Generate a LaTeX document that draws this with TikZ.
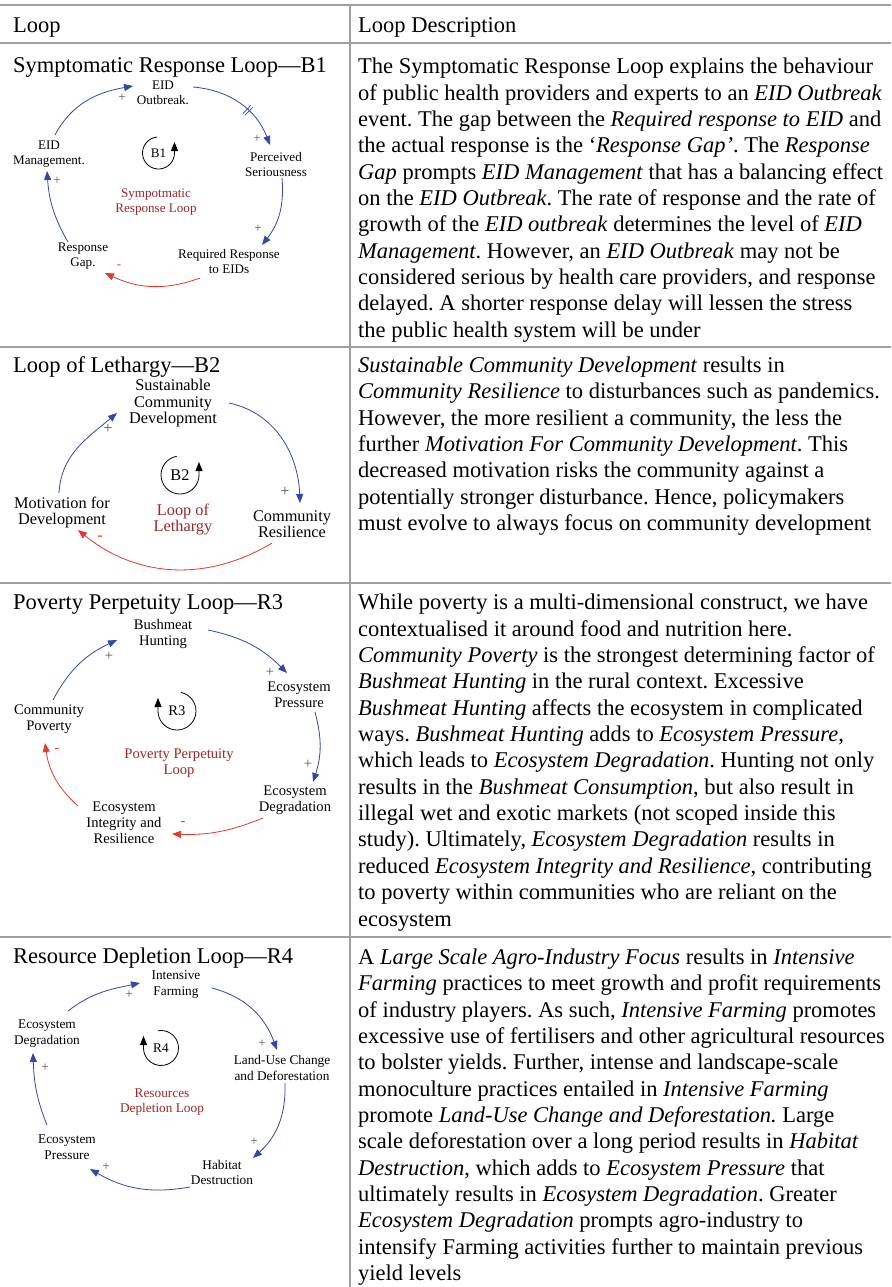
\documentclass[tikz,border=0pt]{standalone}
\usepackage{fontspec}
\setmainfont{Liberation Serif}
\usetikzlibrary{arrows.meta}

\definecolor{linkblue}{RGB}{52,70,170}
\definecolor{linkred}{RGB}{228,56,44}
\definecolor{loopred}{RGB}{155,40,40}
\definecolor{rulegray}{RGB}{160,160,160}
\definecolor{signgray}{RGB}{85,85,85}

\newcommand{\bodysize}{\fontsize{22.5}{26.35}\selectfont\frenchspacing}

\begin{document}
\begin{tikzpicture}[x=1pt,y=1pt,
  rule/.style={draw=rulegray,line width=1.3pt},
  body/.style={anchor=north west,align=left,inner sep=0pt,font=\bodysize},
  head/.style={anchor=west,inner sep=0pt,font=\bodysize},
  var/.style={align=center,inner sep=1pt},
  pos link/.style={draw=linkblue,line width=0.8pt,-{Triangle[length=9pt,width=7pt]}},
  neg link/.style={draw=linkred,line width=0.8pt,-{Triangle[length=9pt,width=7pt]}},
  plus/.style={text=signgray,inner sep=0pt},
  minus/.style={text=linkred,inner sep=0pt},
  loopname/.style={align=center,text=loopred,inner sep=1pt},
  looptag/.style={inner sep=0pt},
  loopturn/.style={draw=black,line width=0.8pt,-{Triangle[length=9pt,width=7pt]}},
  delay/.style={sloped,inner sep=0pt,text=linkblue},
  d1font/.style={font=\fontsize{13.1}{15}\selectfont},
  d2font/.style={font=\fontsize{16.3}{16.5}\selectfont},
  d3font/.style={font=\fontsize{14.6}{16}\selectfont},
  d4font/.style={font=\fontsize{13.3}{15.5}\selectfont},
]
\useasboundingbox (0,0) rectangle (891,-1287);
\fill[white] (0,0) rectangle (891,-1287);

% table rules
\draw[rule] (0,-5) -- (891,-5);
\draw[rule,line width=2pt] (0,-43) -- (891,-43);
\draw[rule] (0,-347) -- (891,-347);
\draw[rule] (0,-583) -- (891,-583);
\draw[rule] (0,-937) -- (891,-937);
\draw[rule] (350,-5) -- (350,-1287);

% header
\node[head] (hl) at (13,-27.5) {Loop};
\node[head] (hd) at (358,-27.5) {Loop Description};

% row titles
\node[head] (t1) at (13,-67.5) {Symptomatic Response Loop—B1};
\node[head] (t2) at (13,-367.5) {Loop of Lethargy—B2};
\node[head] (t3) at (13,-604.5) {Poverty Perpetuity Loop—R3};
\node[head] (t4) at (13,-958.5) {Resource Depletion Loop—R4};

% descriptions
\node[body] (x1) at (358,-58) {The Symptomatic Response Loop explains the behaviour\\
of public health providers and experts to an \textit{EID Outbreak}\\
event. The gap between the \textit{Required response to EID} and\\
the actual response is the ‘\textit{Response Gap’}. The \textit{Response}\\
\textit{Gap} prompts \textit{EID Management} that has a balancing effect\\
on the \textit{EID Outbreak}. The rate of response and the rate of\\
growth of the \textit{EID outbreak} determines the level of \textit{EID}\\
\textit{Management}. However, an \textit{EID Outbreak} may not be\\
considered serious by health care providers, and response\\
delayed. A shorter response delay will lessen the stress\\
the public health system will be under};

\node[body] (x2) at (358,-356.5) {\textit{Sustainable Community Development} results in\\
\textit{Community Resilience} to disturbances such as pandemics.\\
However, the more resilient a community, the less the\\
further \textit{Motivation For Community Development}. This\\
decreased motivation risks the community against a\\
potentially stronger disturbance. Hence, policymakers\\
must evolve to always focus on community development};

\node[body] (x3) at (358,-594) {While poverty is a multi-dimensional construct, we have\\
contextualised it around food and nutrition here.\\
\textit{Community Poverty} is the strongest determining factor of\\
\textit{Bushmeat Hunting} in the rural context. Excessive\\
\textit{Bushmeat Hunting} affects the ecosystem in complicated\\
ways. \textit{Bushmeat Hunting} adds to \textit{Ecosystem Pressure},\\
which leads to \textit{Ecosystem Degradation}. Hunting not only\\
results in the \textit{Bushmeat Consumption}, but also result in\\
illegal wet and exotic markets (not scoped inside this\\
study). Ultimately, \textit{Ecosystem Degradation} results in\\
reduced \textit{Ecosystem Integrity and Resilience}, contributing\\
to poverty within communities who are reliant on the\\
ecosystem};

\node[body] (x4) at (358,-948.5) {A \textit{Large Scale Agro-Industry Focus} results in \textit{Intensive}\\
\textit{Farming} practices to meet growth and profit requirements\\
of industry players. As such, \textit{Intensive Farming} promotes\\
excessive use of fertilisers and other agricultural resources\\
to bolster yields. Further, intense and landscape-scale\\
monoculture practices entailed in \textit{Intensive Farming}\\
promote \textit{Land-Use Change and Deforestation.} Large\\
scale deforestation over a long period results in \textit{Habitat}\\
\textit{Destruction}, which adds to \textit{Ecosystem Pressure} that\\
ultimately results in \textit{Ecosystem Degradation}. Greater\\
\textit{Ecosystem Degradation} prompts agro-industry to\\
intensify Farming activities further to maintain previous\\
yield levels};

% ---------- B1: symptomatic response loop ----------
\begin{scope}[every node/.append style=d1font]
\node[var] (o1) at (163,-92.5) {EID\\Outbreak.};
\node[var] (p1) at (276,-164.5) {Perceived\\Seriousness};
\node[var] (r1) at (229,-261.5) {Required Response\\to EIDs};
\node[var] (g1) at (83,-256) {Response\\Gap.};
\node[var] (m1) at (49,-154.5) {EID\\Management.};
\node[looptag] (b1) at (158.5,-153) {B1};
\node[loopname] (n1) at (156,-202.5) {Sympotmatic\\Response Loop};

\draw[pos link] ([shift={(6,19.5)}]m1.center) to[out=62,in=190] ([shift={(-30,6.5)}]o1.center);
\draw[pos link] ([shift={(30,5.5)}]o1.center) to[out=-5,in=111]
  node[delay,pos=0.6] {\rule[-5.5pt]{0.7pt}{11pt}\hspace{2pt}\rule[-5.5pt]{0.7pt}{11pt}}
  ([shift={(-6,19.5)}]p1.center);
\draw[pos link] ([shift={(6,-13.5)}]p1.center) to[out=-85,in=52] ([shift={(33,16.5)}]r1.center);
\draw[neg link] ([shift={(-29,-16.5)}]r1.center) to[out=200,in=-25] ([shift={(22,-17)}]g1.center);
\draw[pos link] ([shift={(-15,14)}]g1.center) to[out=120,in=-86] ([shift={(-2,-16.5)}]m1.center);

\node[plus] at (122,-98) {+};
\node[plus] at (257,-139) {+};
\node[plus] at (258,-229) {+};
\node[plus] at (57,-181) {+};
\node[minus] at (119,-267) {-};

\draw[loopturn] ([shift={(95:16pt)}]b1.center) arc[start angle=95,end angle=360,radius=16pt] -- ++(0,11pt);
\end{scope}

% ---------- B2: loop of lethargy ----------
\begin{scope}[every node/.append style=d2font]
\node[var] (s2) at (173,-403.5) {Sustainable\\Community\\Development};
\node[var] (c2) at (292,-524) {Community\\Resilience};
\node[var] (v2) at (62,-512.5) {Motivation for\\Development};
\node[looptag] (b2) at (180,-475) {B2};
\node[loopname] (n2) at (183,-519.5) {Loop of\\Lethargy};

\draw[pos link] ([shift={(56,0.5)}]s2.center) to[out=-12,in=92] ([shift={(8,21)}]c2.center);
\draw[neg link] ([shift={(-20,-19)}]c2.center) to[out=211,in=-39] ([shift={(16,-17.5)}]v2.center);
\draw[pos link] ([shift={(-3,19.5)}]v2.center) to[out=87,in=-140] ([shift={(-56,-9.5)}]s2.center);

\node[plus] at (285,-492) {+};
\node[plus] at (108,-429) {+};
\node[minus] at (100,-538) {-};

\draw[loopturn] ([shift={(100:19pt)}]b2.center) arc[start angle=100,end angle=360,radius=19pt] -- ++(0,13pt);
\end{scope}

% ---------- R3: poverty perpetuity loop ----------
\begin{scope}[every node/.append style=d3font]
\node[var] (h3) at (163,-634) {Bushmeat\\Hunting};
\node[var] (p3) at (299,-694.5) {Ecosystem\\Pressure};
\node[var] (d3) at (295,-800.5) {Ecosystem\\Degradation};
\node[var] (i3) at (124,-823) {Ecosystem\\Integrity and\\Resilience};
\node[var] (c3) at (49,-719) {Community\\Poverty};
\node[looptag] (r3) at (177,-711) {R3};
\node[loopname] (n3) at (179,-763) {Poverty Perpetuity\\Loop};

\draw[pos link] ([shift={(45,4)}]h3.center) to[out=-12,in=135] ([shift={(-12,21.5)}]p3.center);
\draw[pos link] ([shift={(16,-17.5)}]p3.center) to[out=-75,in=72] ([shift={(18,18.5)}]d3.center);
\draw[neg link] ([shift={(-32,-17.5)}]d3.center) to[out=202,in=-2] ([shift={(48,-11)}]i3.center);
\draw[neg link] ([shift={(-46,17)}]i3.center) to[out=138,in=-82] ([shift={(-4,-24)}]c3.center);
\draw[pos link] ([shift={(4,19)}]c3.center) to[out=62,in=205] ([shift={(-46,-6)}]h3.center);

\node[plus] at (270,-672) {+};
\node[plus] at (308,-764) {+};
\node[plus] at (109,-656) {+};
\node[minus] at (183,-823) {-};
\node[minus] at (57,-750) {-};

\draw[loopturn] ([shift={(78:19pt)}]r3.center) arc[start angle=78,end angle=-180,radius=19pt] -- ++(0,13pt);
\end{scope}

% ---------- R4: resource depletion loop ----------
\begin{scope}[every node/.append style=d4font]
\node[var] (f4) at (176,-984.5) {Intensive\\Farming};
\node[var] (l4) at (282,-1068) {Land-Use Change\\and Deforestation};
\node[var] (h4) at (222,-1172.5) {Habitat\\Destruction};
\node[var] (p4) at (67,-1147) {Ecosystem\\Pressure};
\node[var] (d4) at (47,-1033.5) {Ecosystem\\Degradation};
\node[looptag] (r4) at (161,-1048) {R4};
\node[loopname] (n4) at (162,-1102) {Resources\\Depletion Loop};

\draw[pos link] ([shift={(21,22.5)}]d4.center) to[out=38,in=192] ([shift={(-36,1.5)}]f4.center);
\draw[pos link] ([shift={(36,-3.5)}]f4.center) to[out=-15,in=110] ([shift={(-5,18)}]l4.center);
\draw[pos link] ([shift={(3,-15)}]l4.center) to[out=-88,in=42] ([shift={(31,14.5)}]h4.center);
\draw[pos link] ([shift={(-32,-14.5)}]h4.center) to[out=190,in=-30] ([shift={(23,-22)}]p4.center);
\draw[pos link] ([shift={(-20,22)}]p4.center) to[out=112,in=-88] ([shift={(-14,-19.5)}]d4.center);

\node[plus] at (129,-995) {+};
\node[plus] at (262,-1044) {+};
\node[plus] at (254,-1142) {+};
\node[plus] at (106,-1167) {+};
\node[plus] at (45,-1068) {+};

\draw[loopturn] ([shift={(100:17.5pt)}]r4.center) arc[start angle=100,end angle=-180,radius=17.5pt] -- ++(0,12pt);
\end{scope}
\end{tikzpicture}
\end{document}
